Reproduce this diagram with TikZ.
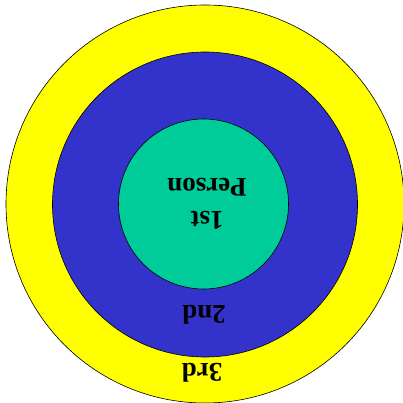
\documentclass[tikz,border=0pt]{standalone}
\usepackage{fontspec}
\setmainfont{Liberation Serif}
\definecolor{ringyellow}{HTML}{FFFF00}
\definecolor{ringblue}{HTML}{3333CC}
\definecolor{ringgreen}{HTML}{00CC99}
\tikzset{
	label text/.style={rotate=180, font=\fontsize{27}{27}\selectfont\bfseries, align=center}
}
\begin{document}
\begin{tikzpicture}[x=1pt, y=-1pt]
		\useasboundingbox (0,0) rectangle (403,403);
		\clip (0,0) rectangle (403,403);
		
		% Rings
		\filldraw[fill=ringyellow, draw=black, line width=0.6pt] (205,204) circle (199);
		\filldraw[fill=ringblue, draw=black, line width=0.6pt] (205,204.5) circle (152.5);
		\filldraw[fill=ringgreen, draw=black, line width=0.6pt] (203.5,204) circle (85);
		
		% Labels
		\node[label text] (first) at (207,204) {1st\\[6pt]Person};
		\node[label text] (second) at (204,315) {2nd};
		\node[label text] (third) at (202,373) {3rd};
	\end{tikzpicture}
\end{document}
